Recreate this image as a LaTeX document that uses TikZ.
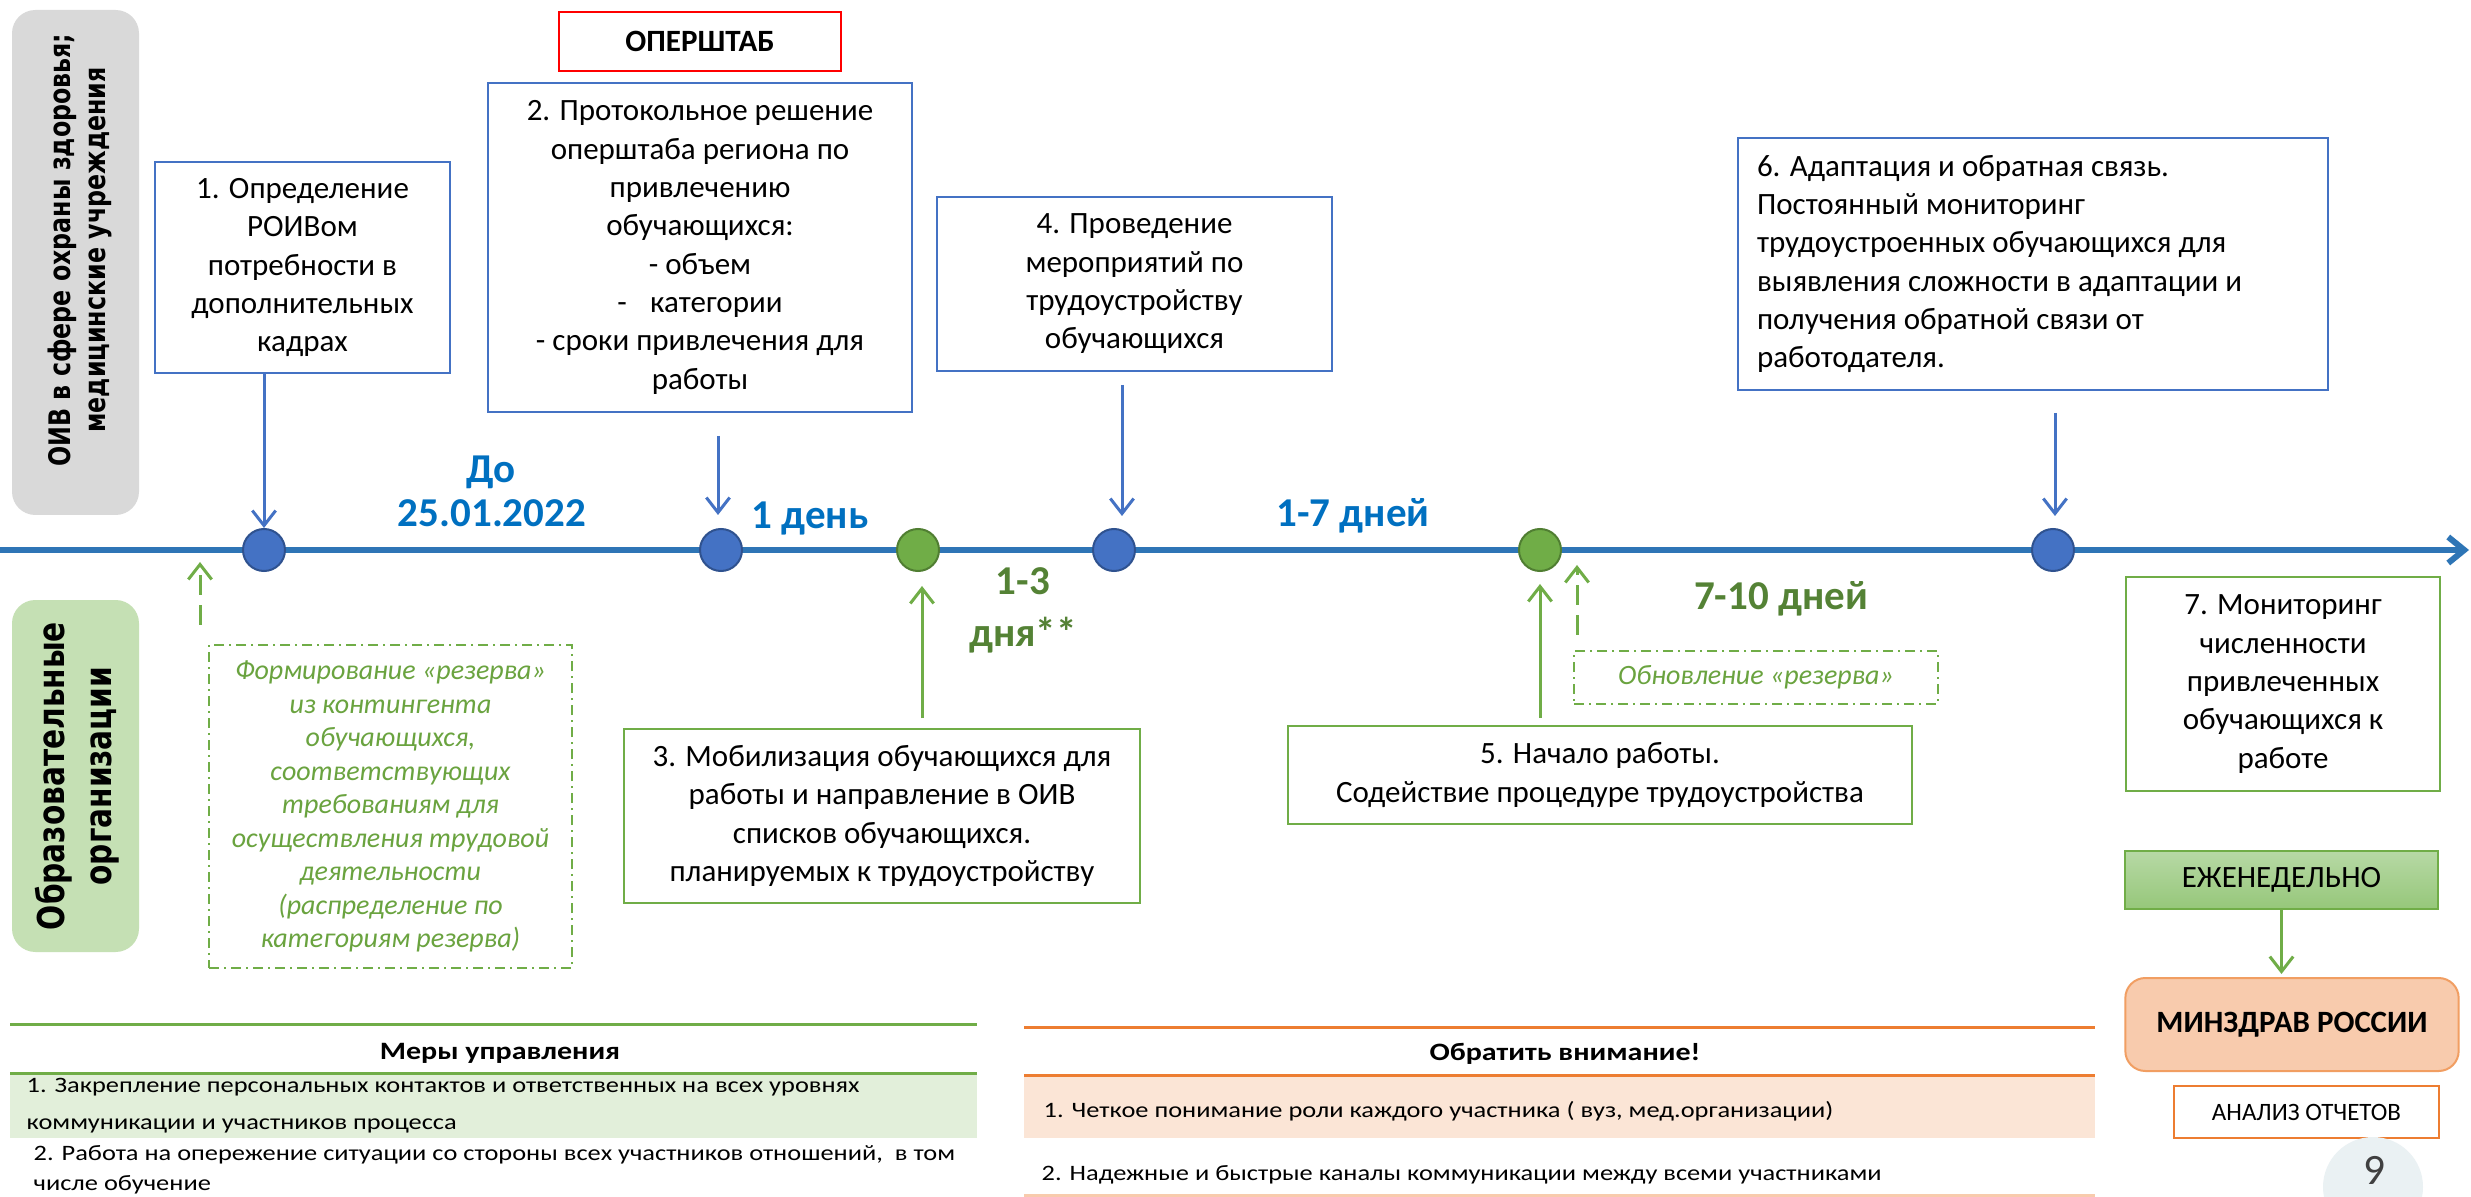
\documentclass[tikz,border=0pt]{standalone}
\usepackage{fontspec}
\usepackage{graphicx}
\setmainfont{Carlito}
\newfontfamily\vfont{DejaVu Sans}
\usetikzlibrary{arrows.meta}
\definecolor{boxblue}{HTML}{4472C4}
\definecolor{tlblue}{HTML}{2E75B6}
\definecolor{lblblue}{HTML}{0070C0}
\definecolor{cblueb}{HTML}{2F528F}
\definecolor{boxgreen}{HTML}{70AD47}
\definecolor{dkgreen}{HTML}{548235}
\definecolor{cgreenb}{HTML}{507E32}
\definecolor{resgreen}{HTML}{6AA33F}
\definecolor{grayfill}{HTML}{D9D9D9}
\definecolor{greenlbl}{HTML}{C5E0B4}
\definecolor{rowgreen}{HTML}{E2EFDA}
\definecolor{roworange}{HTML}{FBE5D6}
\definecolor{orangeln}{HTML}{ED7D31}
\definecolor{minzfill}{HTML}{F8CBAD}
\definecolor{minzdraw}{HTML}{F19E62}
\definecolor{ninefill}{HTML}{EAF1F3}
\definecolor{ezhtop}{HTML}{B7D9A5}
\definecolor{ezhbot}{HTML}{96C77A}
\definecolor{ninetext}{HTML}{404040}
\newcommand\tst[1]{\scalebox{1.2}[1]{#1}}
\newcommand\vsq[1]{\scalebox{0.8}[1]{#1}}
\begin{document}
\begin{tikzpicture}[x=0.3pt,y=-0.3pt,
  boxtext/.style={font=\fontsize{9.3pt}{11.5pt}\selectfont, align=center, inner sep=0pt, fill=white},
  bluebox/.style={boxtext, draw=boxblue, line width=0.75pt},
  greenbox/.style={boxtext, draw=boxgreen, line width=0.75pt},
  dashdotbox/.style={draw=boxgreen, line width=0.7pt, dash pattern=on 3pt off 1.5pt on 0.6pt off 1.5pt, inner sep=0pt, align=center, text=resgreen, font=\itshape\fontsize{8.4pt}{10.05pt}\selectfont},
  bcirc/.style={circle, fill=boxblue, draw=cblueb, line width=0.6pt, minimum size=12.6pt, inner sep=0pt},
  gcirc/.style={circle, fill=boxgreen, draw=cgreenb, line width=0.6pt, minimum size=12.6pt, inner sep=0pt},
  blbl/.style={font=\bfseries\fontsize{12.3pt}{14pt}\selectfont, text=lblblue, inner sep=0pt, anchor=base},
  glbl/.style={font=\bfseries\fontsize{12.3pt}{14pt}\selectfont, text=dkgreen, inner sep=0pt, anchor=base},
  barrow/.style={draw=boxblue, line width=0.9pt, -{Straight Barb[length=4.5pt,width=7pt]}},
  garrow/.style={draw=boxgreen, line width=0.9pt, -{Straight Barb[length=4.5pt,width=7pt]}},
  gdarrow/.style={garrow, dash pattern=on 6pt off 3pt},
  timeline/.style={draw=tlblue, line width=1.8pt, -{Straight Barb[length=4.8pt,width=7.8pt]}},
  tabtext/.style={font=\fontsize{6.6pt}{8pt}\selectfont, inner sep=0pt, anchor=base west},
  tabhead/.style={font=\bfseries\fontsize{7.5pt}{9pt}\selectfont, inner sep=0pt, anchor=base},
  vlabel/.style={font=\vfont\bfseries, align=center, inner sep=0pt, rotate=90},
]
\useasboundingbox[fill=white] (0,0) rectangle (2471,1197);

% side labels
\node[fill=grayfill, rounded corners=7pt, minimum width=38.1pt, minimum height=151.5pt, inner sep=0pt] (grayband) at (75.5,262.5) {};
\node[vlabel, font=\vfont\bfseries\fontsize{8.9pt}{10.5pt}\selectfont] (oiv) at (80,250) {\vsq{ОИВ в сфере охраны здоровья;}\\\vsq{медицинские учреждения}};
\node[fill=greenlbl, rounded corners=7pt, minimum width=38.1pt, minimum height=105.6pt, inner sep=0pt] (greenband) at (75.5,776) {};
\node[vlabel, font=\vfont\bfseries\fontsize{11.1pt}{14pt}\selectfont] (edu) at (77,776) {\vsq{Образовательные}\\\vsq{организации}};

% timeline
\coordinate (tlstart) at (0,550);
\coordinate (tlend) at (2469,550);
\draw[timeline] (tlstart) -- (tlend);

\node[bcirc] (c1) at (264,550) {};
\node[bcirc] (c2) at (721,550) {};
\node[gcirc] (g1) at (918,550) {};
\node[bcirc] (c3) at (1114,550) {};
\node[gcirc] (g2) at (1540,550) {};
\node[bcirc] (c4) at (2053,550) {};

% upper boxes
\node[draw=red, line width=0.45pt, minimum width=84.6pt, minimum height=17.7pt, inner sep=0pt, font=\bfseries\fontsize{9.3pt}{11.5pt}\selectfont] (opsh) at (700,41.5) {ОПЕРШТАБ};
\node[bluebox, minimum width=88.5pt, minimum height=63.3pt] (box1) at (302.5,267.5) {1. Определение\\РОИВом\\потребности в\\дополнительных\\кадрах};
\node[bluebox, minimum width=127.2pt, minimum height=98.7pt] (box2) at (700,247.5) {2. Протокольное решение\\оперштаба региона по\\привлечению\\обучающихся:\\- объем\\-\hspace{7pt}категории\\- сроки привлечения для\\работы};
\node[bluebox, minimum width=118.5pt, minimum height=52.2pt] (box4) at (1134.5,284) {4. Проведение\\мероприятий по\\трудоустройству\\обучающихся};
\node[bluebox, minimum width=177pt, minimum height=75.6pt, text width=165.6pt, align=flush left] (box6) at (2033,264) {6. Адаптация и обратная связь.\\Постоянный мониторинг\\трудоустроенных обучающихся для\\выявления сложности в адаптации и\\получения обратной связи от\\работодателя.};

% lower boxes
\node[greenbox, minimum width=154.8pt, minimum height=52.2pt] (box3) at (882,816) {3. Мобилизация обучающихся для\\работы и направление в ОИВ\\списков обучающихся.\\планируемых к трудоустройству};
\node[greenbox, minimum width=187.2pt, minimum height=29.4pt] (box5) at (1600,775) {5. Начало работы.\\Содействие процедуре трудоустройства};
\node[greenbox, minimum width=94.2pt, minimum height=64.2pt] (box7) at (2283,684) {7. Мониторинг\\численности\\привлеченных\\обучающихся к\\работе};
\node[dashdotbox, minimum width=108.9pt, minimum height=96.9pt] (reserve) at (390.5,806.5) {Формирование «резерва»\\из контингента\\обучающихся,\\соответствующих\\требованиям для\\осуществления трудовой\\деятельности\\(распределение по\\категориям резерва)};
\node[dashdotbox, minimum width=109.2pt, minimum height=15.9pt] (renew) at (1756,677.5) {Обновление «резерва»};

% timeline labels
\node[blbl] (do) at (491,483) {До};
\node[blbl] (date) at (492,527) {25.01.2022};
\node[blbl] (day1) at (810,529) {1 день};
\node[glbl] (d13a) at (1023,595) {1-3};
\node[glbl] (d13b) at (1023,647) {дня**};
\node[blbl] (d17) at (1353,527) {1-7 дней};
\node[glbl] (d710) at (1781,609) {7-10 дней};

% blue arrows
\draw[barrow] (c1 |- box1.south) -- (c1.north);
\coordinate (a2) at (718,436);
\draw[barrow, shorten >=3.9pt] (a2) -- (a2 |- c2.north);
\coordinate (a4) at (1122,385);
\draw[barrow, shorten >=3.6pt] (a4) -- (a4 |- c3.north);
\coordinate (a6) at (2055,413);
\draw[barrow, shorten >=3.6pt] (a6) -- (a6 |- c4.north);

% green arrows
\coordinate (a3) at (922,718);
\draw[garrow, shorten >=4.2pt] (a3) -- (a3 |- g1.south);
\draw[garrow, shorten <=2.1pt, shorten >=3.6pt] (g2 |- box5.north) -- (g2.south);
\coordinate (d2) at (1577,635);
\draw[gdarrow, shorten >=4.5pt] (d2) -- (d2 |- g2.east);
\coordinate (d1) at (200,625);
\draw[gdarrow, shorten >=3.6pt] (d1) -- (d1 |- c1.east);

% right column
\node[draw=boxgreen, line width=0.6pt, top color=ezhtop, bottom color=ezhbot, minimum width=93.9pt, minimum height=17.4pt, inner sep=0pt, font=\fontsize{9.3pt}{11.5pt}\selectfont] (ezh) at (2281.5,880) {ЕЖЕНЕДЕЛЬНО};
\node[draw=minzdraw, line width=0.6pt, fill=minzfill, rounded corners=6pt, minimum width=100pt, minimum height=27.9pt, inner sep=0pt, font=\bfseries\fontsize{9.3pt}{11.5pt}\selectfont] (minz) at (2292,1024.5) {МИНЗДРАВ РОССИИ};
\draw[garrow, shorten >=0.9pt] (ezh.south) -- (ezh.south |- minz.north);
\node[draw=orangeln, line width=0.75pt, fill=white, minimum width=79.5pt, minimum height=15.6pt, inner sep=0pt, font=\fontsize{7.5pt}{9pt}\selectfont] (analiz) at (2306.5,1112) {АНАЛИЗ ОТЧЕТОВ};
\node[circle, fill=ninefill, minimum size=30pt, inner sep=0pt] (pg) at (2373,1187) {};
\node[inner sep=0pt, text=ninetext, font=\fontsize{13pt}{15pt}\selectfont] (nine) at (2374,1170) {9};

% left table
\fill[rowgreen] (10,1073) rectangle (977,1138);
\draw[boxgreen, line width=0.9pt] (10,1024) -- (977,1024);
\draw[boxgreen, line width=0.9pt] (10,1073) -- (977,1073);
\node[tabhead] (mh) at (500,1059) {\tst{Меры управления}};
\node[tabtext] (m1a) at (26,1092) {\tst{1. Закрепление персональных контактов и ответственных на всех уровнях}};
\node[tabtext] (m1b) at (26,1129) {\tst{коммуникации и участников процесса}};
\node[tabtext] (m2a) at (33,1160) {\tst{2. Работа на опережение ситуации со стороны всех участников отношений,\ \ в том}};
\node[tabtext] (m2b) at (33,1190) {\tst{числе обучение}};

% right table
\fill[roworange] (1024,1075) rectangle (2095,1138);
\draw[orangeln, line width=0.9pt] (1024,1027) -- (2095,1027);
\draw[orangeln, line width=0.9pt] (1024,1075) -- (2095,1075);
\draw[minzfill, line width=0.9pt] (1024,1195) -- (2095,1195);
\node[tabhead] (oh) at (1565,1060) {\tst{Обратить внимание!}};
\node[tabtext] (o1) at (1043,1117) {\tst{1. Четкое понимание роли каждого участника ( вуз, мед.организации)}};
\node[tabtext] (o2) at (1041,1180) {\tst{2. Надежные и быстрые каналы коммуникации между всеми участниками}};
\end{tikzpicture}
\end{document}
